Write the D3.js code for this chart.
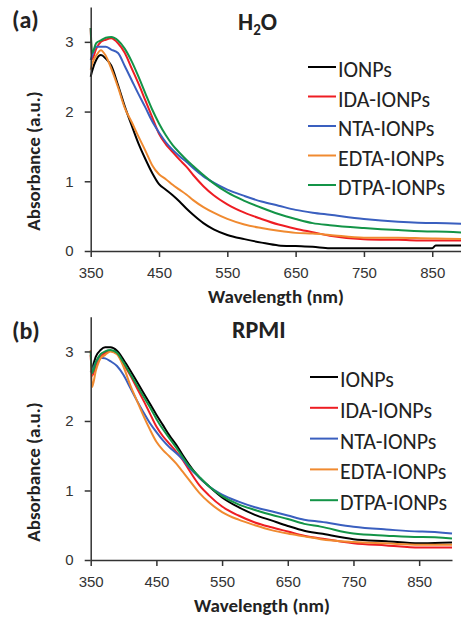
<!DOCTYPE html>
<html>
<head>
<meta charset="utf-8">
<script src="https://cdn.jsdelivr.net/npm/d3@7"></script>
<style>
  body { margin: 0; background: #fff; }
  svg { display: block; font-family: Carlito, Lato, "Open Sans", sans-serif; }
  .axis path, .axis line { stroke: #333; stroke-width: 1.5; }
  .axis text { font-size: 15px; fill: #333; }
</style>
</head>
<body>
<script>
var width = 461;
var height = 625;

// wavelength grid (nm) shared by all spectra
var wavelengths = [350, 352, 358, 365, 372, 380, 390, 400, 410, 420, 430, 440, 450, 460, 470, 480,
                   490, 500, 515, 530, 550, 575, 600, 625, 650, 675, 700, 750, 800, 850, 855, 900];

var seriesNames = ["IONPs", "IDA-IONPs", "NTA-IONPs", "EDTA-IONPs", "DTPA-IONPs"];
var colors = ["#000000", "#ee1d23", "#3a5fbf", "#f08a30", "#139447"];

// (a) H2O
var h2oIONPs = [2.50, 2.58, 2.74, 2.81, 2.76, 2.66, 2.38, 2.07, 1.80, 1.54, 1.32, 1.12, 0.96, 0.88, 0.80, 0.71,
                0.61, 0.52, 0.40, 0.31, 0.23, 0.17, 0.12, 0.08, 0.07, 0.06, 0.04, 0.04, 0.04, 0.04, 0.08, 0.08];
var h2oIDA   = [3.20, 2.75, 2.90, 3.00, 3.03, 3.05, 2.98, 2.84, 2.62, 2.40, 2.16, 1.92, 1.68, 1.53, 1.42, 1.31,
                1.21, 1.09, 0.93, 0.80, 0.67, 0.55, 0.46, 0.38, 0.32, 0.27, 0.22, 0.17, 0.16, 0.15, 0.15, 0.15];
var h2oNTA   = [2.74, 2.80, 2.93, 2.93, 2.93, 2.89, 2.84, 2.65, 2.45, 2.25, 2.06, 1.86, 1.70, 1.56, 1.45, 1.36,
                1.28, 1.19, 1.07, 0.98, 0.88, 0.79, 0.71, 0.65, 0.59, 0.55, 0.52, 0.46, 0.42, 0.40, 0.40, 0.39];
var h2oEDTA  = [2.60, 2.68, 2.80, 2.88, 2.80, 2.62, 2.35, 2.05, 1.85, 1.64, 1.44, 1.23, 1.10, 1.03, 0.95, 0.88,
                0.81, 0.73, 0.63, 0.55, 0.46, 0.38, 0.33, 0.29, 0.26, 0.25, 0.23, 0.19, 0.19, 0.18, 0.18, 0.17];
var h2oDTPA  = [3.20, 2.84, 2.98, 3.02, 3.06, 3.07, 3.02, 2.90, 2.72, 2.50, 2.26, 2.03, 1.83, 1.66, 1.52, 1.41,
                1.31, 1.22, 1.09, 0.97, 0.84, 0.72, 0.62, 0.53, 0.46, 0.40, 0.37, 0.33, 0.30, 0.28, 0.28, 0.26];

// (b) RPMI
var rpmiIONPs = [2.70, 2.75, 2.93, 3.02, 3.06, 3.06, 3.01, 2.88, 2.73, 2.57, 2.41, 2.25, 2.09, 1.94, 1.79, 1.66,
                 1.51, 1.37, 1.19, 1.06, 0.90, 0.76, 0.65, 0.57, 0.49, 0.42, 0.38, 0.30, 0.27, 0.24, 0.24, 0.25];
var rpmiIDA   = [2.95, 2.65, 2.80, 2.92, 2.98, 3.01, 2.97, 2.82, 2.66, 2.48, 2.30, 2.11, 1.92, 1.78, 1.67, 1.56,
                 1.44, 1.29, 1.08, 0.93, 0.77, 0.64, 0.54, 0.47, 0.41, 0.35, 0.31, 0.24, 0.21, 0.18, 0.18, 0.18];
var rpmiNTA   = [2.70, 2.72, 2.85, 2.91, 2.90, 2.86, 2.79, 2.66, 2.48, 2.30, 2.13, 1.97, 1.84, 1.72, 1.62, 1.54,
                 1.45, 1.33, 1.19, 1.06, 0.94, 0.84, 0.76, 0.70, 0.64, 0.58, 0.55, 0.48, 0.44, 0.41, 0.41, 0.38];
var rpmiEDTA  = [3.02, 2.49, 2.73, 2.90, 2.95, 3.00, 2.96, 2.78, 2.52, 2.30, 2.08, 1.88, 1.70, 1.58, 1.49, 1.39,
                 1.27, 1.15, 0.97, 0.83, 0.69, 0.58, 0.50, 0.43, 0.38, 0.34, 0.30, 0.26, 0.24, 0.22, 0.22, 0.22];
var rpmiDTPA  = [3.00, 2.69, 2.85, 2.96, 3.00, 3.02, 2.98, 2.84, 2.68, 2.52, 2.36, 2.20, 2.03, 1.88, 1.75, 1.62,
                 1.48, 1.35, 1.20, 1.06, 0.92, 0.80, 0.72, 0.65, 0.59, 0.52, 0.48, 0.38, 0.35, 0.33, 0.33, 0.31];

var xTicks = [350, 450, 550, 650, 750, 850];
var yTicks = [0, 1, 2, 3];

var svg = d3.select("body").append("svg")
    .attr("width", width)
    .attr("height", height);

// one panel: label, title, spectra, axes, legend
function drawPanel(p) {
  var x = d3.scaleLinear().domain([350, 900]).range([p.left, p.right]);
  var y = d3.scaleLinear().domain([0, 3.5]).range([p.bottom, p.top]);

  var line = d3.line()
      .curve(d3.curveMonotoneX)
      .x(function(d) { return x(d[0]); })
      .y(function(d) { return y(d[1]); });

  p.series.forEach(function(vals, i) {
    var pts = wavelengths.map(function(w, j) { return [w, vals[j]]; });
    svg.append("path")
        .datum(pts)
        .attr("fill", "none")
        .attr("stroke", colors[i])
        .attr("stroke-width", 2)
        .attr("stroke-linejoin", "round")
        .attr("d", line);
  });

  svg.append("g")
      .attr("class", "axis")
      .attr("transform", "translate(0," + p.bottom + ")")
      .call(d3.axisBottom(x).tickValues(xTicks).tickSize(6).tickSizeOuter(0).tickPadding(10));

  svg.append("g")
      .attr("class", "axis")
      .attr("transform", "translate(" + p.left + ",0)")
      .call(d3.axisLeft(y).tickValues(yTicks).tickFormat(d3.format("d"))
            .tickSize(6).tickSizeOuter(0).tickPadding(11));

  svg.append("text")
      .attr("x", p.xlabelMid)
      .attr("y", p.bottom + 52)
      .attr("text-anchor", "middle")
      .style("font-size", "19px")
      .style("font-weight", "bold")
      .style("fill", "#222")
      .text("Wavelength (nm)");

  svg.append("text")
      .attr("transform", "translate(40," + p.ylabelMid + ") rotate(-90)")
      .attr("text-anchor", "middle")
      .style("font-size", "19px")
      .style("font-weight", "bold")
      .style("fill", "#222")
      .text("Absorbance (a.u.)");

  svg.append("text")
      .attr("x", 12)
      .attr("y", p.labelY)
      .style("font-size", "24px")
      .style("font-weight", "bold")
      .style("fill", "#222")
      .text(p.label);

  p.drawTitle();

  var leg = svg.append("g");
  seriesNames.forEach(function(name, i) {
    var base = p.legendTop + i * p.legendStep;
    leg.append("line")
        .attr("x1", p.legendX).attr("x2", p.legendX + 28)
        .attr("y1", base - 10).attr("y2", base - 10)
        .attr("stroke", colors[i])
        .attr("stroke-width", 2);
    leg.append("text")
        .attr("x", p.legendX + 30)
        .attr("y", base)
        .style("font-size", "22px")
        .style("fill", "#222")
        .text(name);
  });
}

drawPanel({
  left: 90.7, right: 466.4, top: 7, bottom: 251,
  series: [h2oIONPs, h2oIDA, h2oNTA, h2oEDTA, h2oDTPA],
  label: "(a)", labelY: 28, ylabelMid: 161, xlabelMid: 276,
  legendX: 308, legendTop: 77, legendStep: 29.5,
  drawTitle: function() {
    var t = svg.append("text")
        .attr("x", 238)
        .attr("y", 30)
        .style("font-size", "24px")
        .style("font-weight", "bold")
        .style("fill", "#222");
    t.append("tspan").text("H");
    t.append("tspan").attr("dy", 5).style("font-size", "15px").text("2");
    t.append("tspan").attr("dy", -5).text("O");
  }
});

drawPanel({
  left: 90.7, right: 452, top: 316.7, bottom: 560,
  series: [rpmiIONPs, rpmiIDA, rpmiNTA, rpmiEDTA, rpmiDTPA],
  label: "(b)", labelY: 339, ylabelMid: 472, xlabelMid: 262,
  legendX: 310, legendTop: 387, legendStep: 30.8,
  drawTitle: function() {
    svg.append("text")
        .attr("x", 232)
        .attr("y", 338)
        .style("font-size", "24px")
        .style("font-weight", "bold")
        .style("fill", "#222")
        .text("RPMI");
  }
});
</script>
</body>
</html>
